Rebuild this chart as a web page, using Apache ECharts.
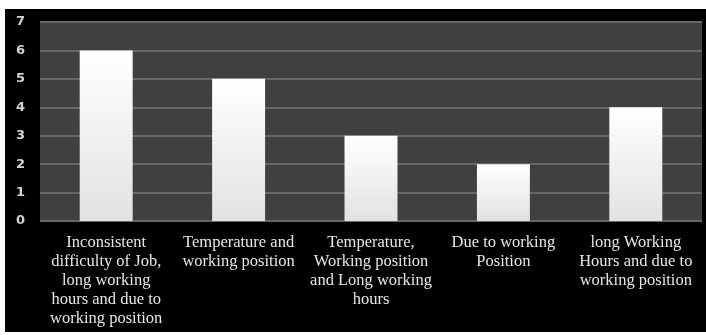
<!DOCTYPE html>
<html>
<head>
<meta charset="utf-8">
<script src="https://cdn.jsdelivr.net/npm/echarts@6/dist/echarts.min.js"></script>
<style>
  html, body { margin: 0; padding: 0; background: #ffffff; }
  #chart { position: absolute; left: 5px; top: 9px; width: 701px; height: 323px; }
</style>
</head>
<body>
<div id="chart"></div>
<script>
  const categories = [
    'Inconsistent\ndifficulty of Job,\nlong working\nhours and due to\nworking position',
    'Temperature and\nworking position',
    'Temperature,\nWorking position\nand Long working\nhours',
    'Due to working\nPosition',
    'long Working\nHours and due to\nworking position'
  ];
  const counts = [6, 5, 3, 2, 4];
  const yTicks = [0, 1, 2, 3, 4, 5, 6, 7];

  const chart = echarts.init(document.getElementById('chart'));

  chart.setOption({
    backgroundColor: '#000000',
    animation: false,
    grid: {
      left: 35,
      right: 4,
      top: 13,
      bottom: 111,
      show: true,
      backgroundColor: '#404040',
      borderWidth: 0
    },
    xAxis: {
      type: 'category',
      data: categories,
      axisLine: { show: false },
      axisTick: { show: false },
      axisLabel: {
        interval: 0,
        margin: 12,
        color: '#e6e6e6',
        fontFamily: 'Liberation Serif',
        fontSize: 16.5,
        lineHeight: 19
      }
    },
    yAxis: {
      type: 'value',
      min: yTicks[0],
      max: yTicks[yTicks.length - 1],
      interval: 1,
      axisLine: { show: false },
      axisTick: { show: false },
      splitLine: { lineStyle: { color: '#676767', width: 2 } },
      axisLabel: {
        margin: 15,
        color: '#d4d4d4',
        fontFamily: 'DejaVu Sans',
        fontWeight: 'bold',
        fontSize: 13
      }
    },
    series: [{
      type: 'bar',
      data: counts,
      barWidth: '40%',
      itemStyle: {
        color: new echarts.graphic.LinearGradient(0, 0, 0, 1, [
          { offset: 0, color: '#ffffff' },
          { offset: 1, color: '#e2e2e2' }
        ])
      }
    }]
  });
</script>
</body>
</html>
